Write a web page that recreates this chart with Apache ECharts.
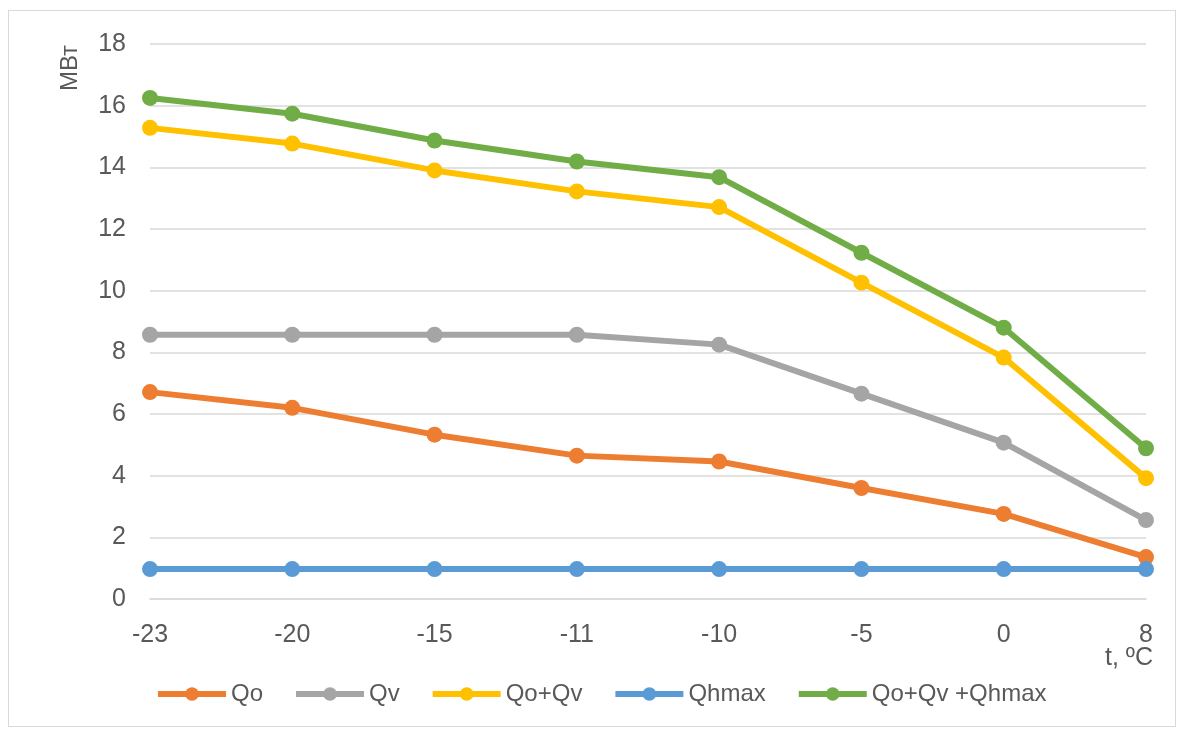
<!DOCTYPE html>
<html>
<head>
<meta charset="utf-8">
<script src="https://cdn.jsdelivr.net/npm/echarts@6/dist/echarts.min.js"></script>
<style>
  html, body { margin: 0; padding: 0; background: #ffffff; }
  #frame { position: absolute; left: 8px; top: 10px; width: 1168px; height: 717px; border: 1.5px solid #D9D9D9; box-sizing: border-box; }
  #chart { position: absolute; left: 0; top: 0; width: 1186px; height: 734px; }
</style>
</head>
<body>
<div id="frame"></div>
<div id="chart"></div>
<script>
// Outdoor temperature, °C
const temps = ['-23', '-20', '-15', '-11', '-10', '-5', '0', '8'];
// Heat loads, MW
const qo      = [6.71, 6.20, 5.33, 4.65, 4.46, 3.60, 2.76, 1.36];
const qv      = [8.57, 8.57, 8.57, 8.57, 8.25, 6.66, 5.07, 2.56];
const qoqv    = [15.28, 14.77, 13.90, 13.22, 12.71, 10.26, 7.83, 3.92];
const qhmax   = [0.97, 0.97, 0.97, 0.97, 0.97, 0.97, 0.97, 0.97];
const qtotal  = [16.25, 15.74, 14.87, 14.19, 13.68, 11.23, 8.80, 4.89];
const seriesNames = ['Qo', 'Qv', 'Qo+Qv', 'Qhmax', 'Qo+Qv +Qhmax'];
const colors = ['#ED7D31', '#A5A5A5', '#FFC000', '#5B9BD5', '#70AD47'];

const FONT = 'Liberation Sans';
const chart = echarts.init(document.getElementById('chart'), null, { renderer: 'canvas' });

function lineSeries(name, data, color) {
  return {
    name: name,
    type: 'line',
    data: data,
    symbol: 'circle',
    symbolSize: 16,
    lineStyle: { width: 6, color: color },
    itemStyle: { color: color },
    emphasis: { disabled: true },
    animation: false
  };
}

chart.setOption({
  animation: false,
  textStyle: { fontFamily: FONT },
  grid: { left: 150, right: 40, top: 44, bottom: 135, containLabel: false },
  legend: {
    left: 150,
    top: 677,
    itemWidth: 68,
    itemHeight: 17,
    itemGap: 30,
    lineStyle: { width: 6 },
    textStyle: { fontFamily: FONT, fontSize: 24, color: '#595959' },
    data: seriesNames
  },
  xAxis: {
    type: 'category',
    data: temps,
    boundaryGap: false,
    axisLine: { show: true, lineStyle: { color: '#D9D9D9', width: 1.5 } },
    axisTick: { show: false },
    axisLabel: { color: '#595959', fontSize: 25, fontFamily: FONT, margin: 24 }
  },
  yAxis: {
    type: 'value',
    min: 0,
    max: 18,
    interval: 2,
    axisLine: { show: false },
    axisTick: { show: false },
    splitLine: { lineStyle: { color: '#D9D9D9', width: 1.5 } },
    axisLabel: { color: '#595959', fontSize: 25, fontFamily: FONT, margin: 24 }
  },
  graphic: [
    {
      type: 'text',
      x: 70, y: 68,
      rotation: Math.PI / 2,
      style: { text: 'МВт', font: '24px "Liberation Sans"', fill: '#595959', align: 'center', verticalAlign: 'middle' }
    },
    {
      type: 'text',
      x: 1153, y: 658,
      style: { text: 't, ºC', font: '25px "Liberation Sans"', fill: '#595959', align: 'right', verticalAlign: 'middle' }
    }
  ],
  series: [
    lineSeries(seriesNames[0], qo, colors[0]),
    lineSeries(seriesNames[1], qv, colors[1]),
    lineSeries(seriesNames[2], qoqv, colors[2]),
    lineSeries(seriesNames[3], qhmax, colors[3]),
    lineSeries(seriesNames[4], qtotal, colors[4])
  ]
});
</script>
</body>
</html>
